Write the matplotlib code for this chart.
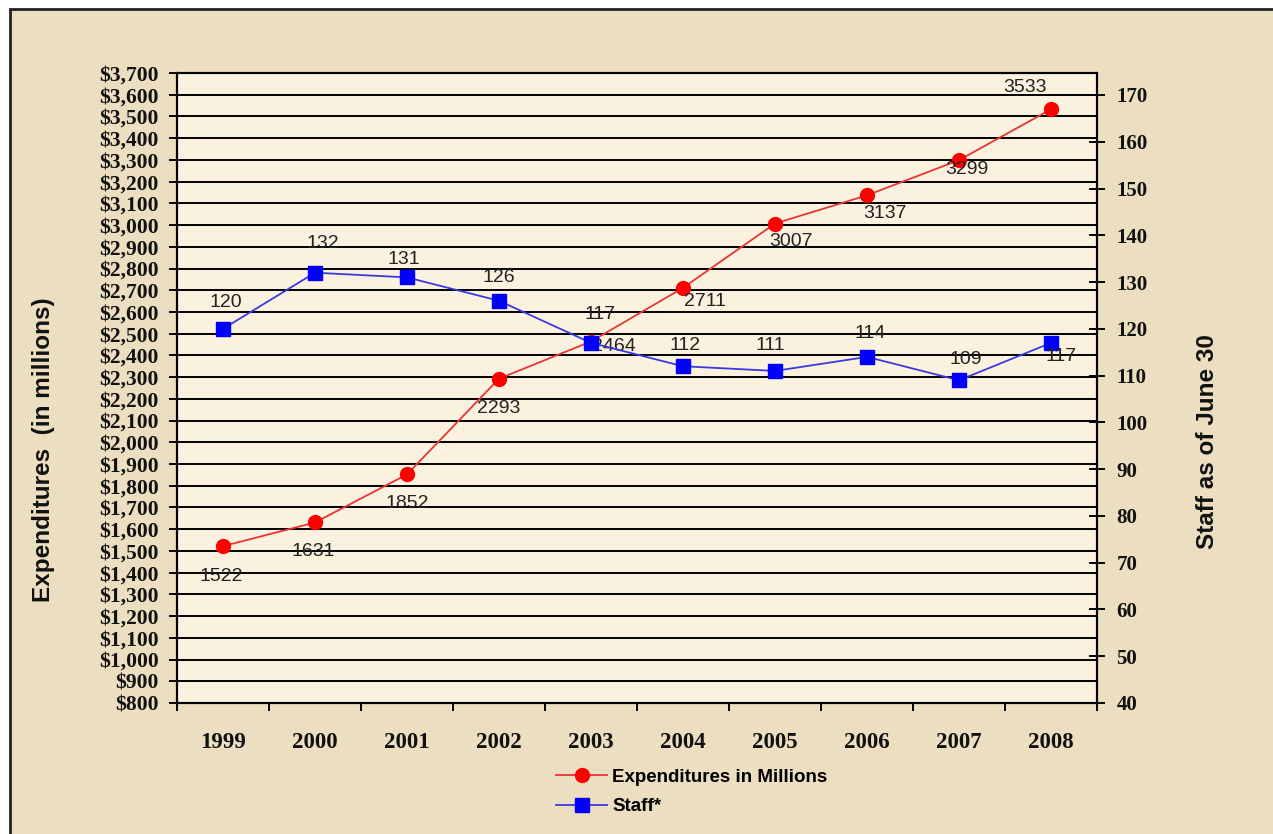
import matplotlib
matplotlib.use('Agg')
import matplotlib.pyplot as plt
from matplotlib.patches import Rectangle
from matplotlib.ticker import FuncFormatter, FixedLocator

# データ
years = ['1999', '2000', '2001', '2002', '2003', '2004', '2005', '2006', '2007', '2008']
expenditures = [1522, 1631, 1852, 2293, 2464, 2711, 3007, 3137, 3299, 3533]
staff = [120, 132, 131, 126, 117, 112, 111, 114, 109, 117]

# ラベル位置のずらし（ピクセル）
exp_offsets = [(-2, -30), (-2, -29), (0, -29), (0, -30), (23, -5),
               (22, -14), (16, -18), (18, -18), (8, -9), (-26, 22)]
staff_offsets = [(3, 26), (8, 29), (-3, 18), (0, 23), (9, 28),
                 (2, 21), (-5, 25), (3, 23), (7, 21), (10, -14)]

W, H = 1273, 834
fig = plt.figure(figsize=(W / 100, H / 100), dpi=100, facecolor='white')

# 背景（羊皮紙風）
fig.patches.append(Rectangle((10 / W, -0.05), 1.2, 1 - 9 / H + 0.05,
                             transform=fig.transFigure, facecolor='#ECDEC0',
                             edgecolor='#222222', linewidth=2, zorder=-10))

ax = fig.add_axes([177 / W, (H - 703) / H, 920 / W, 630 / H])
ax.set_facecolor('#FAF1DF')
x = list(range(len(years)))

# 支出（左軸）
ax.set_ylim(800, 3700)
ax.set_xlim(-0.5, len(years) - 0.5)
ax.yaxis.set_major_locator(FixedLocator(range(800, 3701, 100)))
ax.yaxis.set_major_formatter(FuncFormatter(lambda v, p: f'${int(v):,}'))
ax.grid(True, axis='y', color='black', linewidth=1.4)
ax.set_axisbelow(True)
ax.tick_params(axis='y', direction='out', length=6, width=1.4, pad=7)
for lbl in ax.get_yticklabels():
    lbl.set_fontfamily('Liberation Serif')
    lbl.set_fontweight('bold')
    lbl.set_fontsize(15.5)
    lbl.set_color('#111111')

# X軸
ax.xaxis.set_major_locator(FixedLocator([i - 0.5 for i in range(len(years) + 1)]))
ax.xaxis.set_major_formatter(FuncFormatter(lambda v, p: ''))
ax.xaxis.set_minor_locator(FixedLocator(x))
ax.set_xticklabels(years, minor=True)
ax.tick_params(axis='x', which='major', direction='out', length=6, width=1.4)
ax.tick_params(axis='x', which='minor', length=0, pad=21)
for lbl in ax.get_xticklabels(minor=True):
    lbl.set_fontfamily('Liberation Serif')
    lbl.set_fontweight('bold')
    lbl.set_fontsize(16.5)
    lbl.set_color('#111111')

for s in ax.spines.values():
    s.set_linewidth(1.5)
    s.set_color('black')

l1, = ax.plot(x, expenditures, color='#E83535', linewidth=1.3, marker='o',
              markersize=10, markerfacecolor='#FF0000', markeredgecolor='#FF0000',
              label='Expenditures in Millions', zorder=3)
for xi, v, (dx, dy) in zip(x, expenditures, exp_offsets):
    ax.annotate(str(v), (xi, v), xytext=(dx, dy), textcoords='offset pixels',
                ha='center', va='center', fontsize=14, color='#222222',
                fontfamily='Liberation Sans', zorder=4)

# スタッフ（右軸）
ax2 = ax.twinx()
ax2.set_ylim(40, 174.7)
ax2.yaxis.set_major_locator(FixedLocator(range(40, 171, 10)))
ax2.tick_params(axis='y', direction='inout', length=12, width=1.4, pad=8)
for lbl in ax2.get_yticklabels():
    lbl.set_fontfamily('Liberation Serif')
    lbl.set_fontweight('bold')
    lbl.set_fontsize(15)
    lbl.set_color('#111111')
for s in ax2.spines.values():
    s.set_linewidth(1.5)

l2, = ax2.plot(x, staff, color='#3A3AE0', linewidth=1.3, marker='s',
               markersize=10.5, markerfacecolor='#0000FF', markeredgecolor='#0000FF',
               label='Staff*', zorder=3)
for xi, v, (dx, dy) in zip(x, staff, staff_offsets):
    ax2.annotate(str(v), (xi, v), xytext=(dx, dy), textcoords='offset pixels',
                 ha='center', va='center', fontsize=14, color='#222222',
                 fontfamily='Liberation Sans', zorder=4)

# 軸ラベル
fig.text(44 / W, 1 - 450 / H, 'Expenditures  (in millions)', rotation=90,
         ha='center', va='center', fontsize=17.5, fontweight='bold',
         fontfamily='Liberation Sans', color='#111111')
fig.text(1208 / W, 1 - 442 / H, 'Staff as of June 30', rotation=90,
         ha='center', va='center', fontsize=17.5, fontweight='bold',
         fontfamily='Liberation Sans', color='#111111')

# 凡例
fig.legend(handles=[l1, l2], loc='center', bbox_to_anchor=(692 / W, 1 - 792 / H),
           frameon=False, handlelength=2.7, handletextpad=0.3, labelspacing=0.65,
           prop={'family': 'Liberation Sans', 'weight': 'bold', 'size': 13.5})

fig.savefig('out.png', dpi=100, facecolor=fig.get_facecolor())
